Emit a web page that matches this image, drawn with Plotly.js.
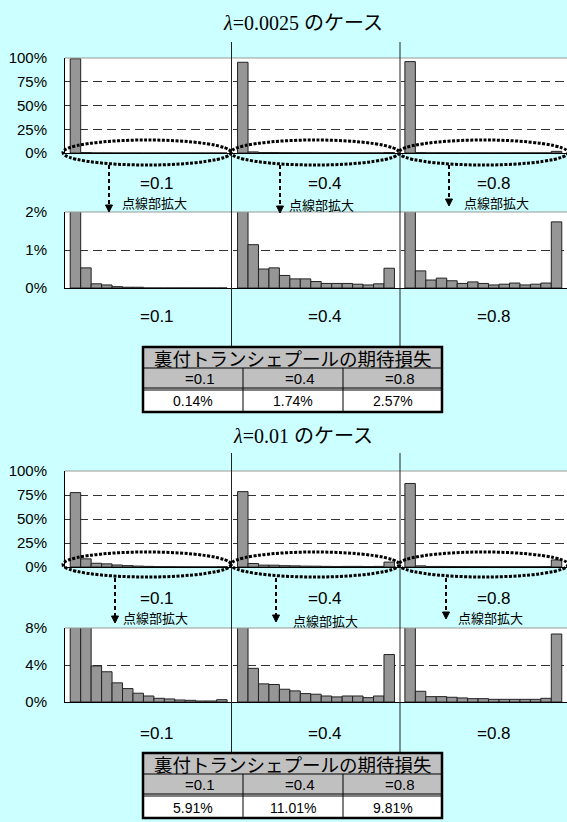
<!DOCTYPE html>
<html><head><meta charset="utf-8">
<script src="https://cdn.plot.ly/plotly-3.0.1.min.js"></script>
<style>html,body{margin:0;padding:0;background:#ccffff;}#chart{width:567px;height:822px;}</style>
</head><body><div id="chart"></div>
<script>
// ---------- data ----------
const bins = [1,2,3,4,5,6,7,8,9,10,11,12,13,14,15];
const rhoLabels = ['=0.1','=0.4','=0.8'];
const caseTitles = ['λ=0.0025','λ=0.01'];
const caseSuffix = 'のケース';
const zoomNote = '点線部拡大';
const tableHeader = '裏付トランシェプールの期待損失';
const lossA = ['0.14%','1.74%','2.57%'];
const lossB = ['5.91%','11.01%','9.81%'];
const ticksFull = [0, 25, 50, 75, 100];
const ticksZoomA = [0, 1, 2];
const ticksZoomB = [0, 4, 8];
// loss distributions (% of probability), λ=0.0025
const distA_01 = [99.2, 0.53, 0.11, 0.08, 0.035, 0.02, 0.02, 0, 0, 0, 0, 0, 0, 0, 0];
const distA_04 = [95.5, 1.14, 0.50, 0.53, 0.33, 0.24, 0.24, 0.17, 0.12, 0.12, 0.12, 0.10, 0.08, 0.11, 0.52];
const distA_08 = [96.2, 0.45, 0.21, 0.26, 0.19, 0.12, 0.16, 0.12, 0.08, 0.10, 0.13, 0.08, 0.10, 0.13, 1.74];
// λ=0.01
const distB_01 = [77.5, 8.5, 3.90, 3.27, 2.07, 1.45, 0.95, 0.65, 0.40, 0.33, 0.22, 0.18, 0.11, 0.11, 0.25];
const distB_04 = [78.5, 3.64, 1.96, 1.89, 1.38, 1.20, 0.91, 0.84, 0.65, 0.55, 0.65, 0.65, 0.47, 0.65, 5.13];
const distB_08 = [87.0, 1.16, 0.58, 0.58, 0.51, 0.44, 0.36, 0.36, 0.29, 0.29, 0.29, 0.29, 0.29, 0.40, 7.35];

// ---------- layout helpers ----------
const W = 567, H = 822;
const X = p => p / W;
const Y = p => 1 - p / H;
const SANS = 'Liberation Sans, Arial, sans-serif';
const CJK = 'Noto Sans CJK JP, sans-serif';
const SERIF = 'Liberation Serif, Times New Roman, serif';
const slots = 16;

const groups = [[distA_01, distA_04, distA_08], [distB_01, distB_04, distB_08]];
const rows = [
  {g:0, top:58, bot:153, ticks:ticksFull},
  {g:0, top:212, bot:288, ticks:ticksZoomA},
  {g:1, top:471, bot:567, ticks:ticksFull},
  {g:1, top:628, bot:702, ticks:ticksZoomB}
];

const traces = [];
const layout = {
  width: W, height: H,
  margin: {l:0, r:0, t:0, b:0},
  paper_bgcolor: '#ccffff',
  plot_bgcolor: '#ffffff',
  showlegend: false,
  bargap: 0,
  shapes: [],
  annotations: []
};

rows.forEach((r, i) => {
  const n = i + 1;
  const xa = 'x' + (n === 1 ? '' : n), ya = 'y' + (n === 1 ? '' : n);
  groups[r.g].forEach((d, p) => {
    traces.push({
      type: 'bar', x: bins.map(b => b + p * slots), y: d, width: 1,
      xaxis: xa, yaxis: ya,
      marker: {color: '#969696', line: {color: '#222', width: 1}},
      hoverinfo: 'skip'
    });
  });
  layout['xaxis' + (n === 1 ? '' : n)] = {
    domain: [X(65), 1], anchor: ya, range: [0, slots * 3],
    showticklabels: false, showgrid: false, zeroline: false,
    showline: true, linecolor: '#000', linewidth: 1, fixedrange: true
  };
  layout['yaxis' + (n === 1 ? '' : n)] = {
    domain: [Y(r.bot), Y(r.top)], anchor: xa, range: [0, r.ticks[r.ticks.length - 1]],
    tickmode: 'array', tickvals: r.ticks, ticktext: r.ticks.map(v => v + '%'),
    tickfont: {family: SANS, size: 15, color: '#000'},
    ticks: 'outside', ticklen: 14, tickcolor: 'rgba(0,0,0,0)',
    showgrid: true, gridcolor: '#333', griddash: '9px,5px', gridwidth: 1,
    zeroline: false, showline: true, linecolor: '#000', linewidth: 1, fixedrange: true
  };
  // gray top border
  layout.shapes.push({type:'line', xref:'paper', yref:'paper', x0:X(65), x1:1, y0:Y(r.top), y1:Y(r.top),
    line:{color:'#999', width:1}, layer:'above'});
});

function ann(text, x, y, size, family, extra) {
  layout.annotations.push(Object.assign({
    text: text, x: X(x), y: Y(y), xref: 'paper', yref: 'paper',
    xanchor: 'center', yanchor: 'middle', showarrow: false,
    font: {family: family, size: size, color: '#000'}
  }, extra || {}));
}

// per-case decorations
const cases = [
  {titleY: 21, lineTop: 42, tableTop: 347, ellTop: 140, ellBot: 165,
   arrowX: [109, 280, 449], arrowY0: 165, arrowY1: [212, 213, 206],
   labY: 183, noteX: [154, 321, 496], noteY: [203, 205, 202], botY: 316, loss: lossA},
  {titleY: 434, lineTop: 453, tableTop: 753, ellTop: 552, ellBot: 577,
   arrowX: [115, 276, 446], arrowY0: 578, arrowY1: [623, 622, 619],
   labY: 598, noteX: [155, 325, 490], noteY: [617, 620, 617], botY: 733, loss: lossB}
];
const panelL = [63, 231, 399], panelR = [231, 399, 568];
const labX = [157, 325, 494];

cases.forEach((c, k) => {
  // title
  ann('<i>' + caseTitles[k].charAt(0) + '</i>' + caseTitles[k].slice(1) +
      ' <span style="font-family:Noto Sans CJK JP">' + caseSuffix + '</span>',
      303, c.titleY, 20, SERIF);
  // separators
  [231.5, 400].forEach(x => layout.shapes.push({type:'line', xref:'paper', yref:'paper',
    x0:X(x), x1:X(x), y0:Y(c.lineTop), y1:Y(c.tableTop), line:{color:'#222', width:1}, layer:'above'}));
  for (let p = 0; p < 3; p++) {
    // dotted ellipse
    layout.shapes.push({type:'circle', xref:'paper', yref:'paper',
      x0:X(panelL[p]), x1:X(panelR[p]), y0:Y(c.ellBot), y1:Y(c.ellTop),
      line:{color:'#000', width:3, dash:'3px,1.5px'}, layer:'above'});
    // dashed arrow
    const ax = c.arrowX[p];
    layout.shapes.push({type:'line', xref:'paper', yref:'paper',
      x0:X(ax), x1:X(ax), y0:Y(c.arrowY0), y1:Y(c.arrowY1[p] - 6),
      line:{color:'#000', width:2, dash:'4px,3px'}, layer:'above'});
    layout.shapes.push({type:'path', xref:'paper', yref:'paper',
      path:'M' + X(ax - 3.5) + ',' + Y(c.arrowY1[p] - 7) + ' L' + X(ax + 3.5) + ',' + Y(c.arrowY1[p] - 7) +
           ' L' + X(ax) + ',' + Y(c.arrowY1[p]) + ' Z',
      fillcolor:'#000', line:{color:'#000', width:1}, layer:'above'});
    ann(rhoLabels[p], labX[p], c.labY, 17, SANS);
    ann(zoomNote, c.noteX[p], c.noteY[p], 13, CJK);
    ann(rhoLabels[p], labX[p], c.botY, 17, SANS);
  }
  // table
  const t = c.tableTop, L = 143, R = 442, cols = [143, 243, 343, 442];
  const r1 = t + 21, r2 = t + 42, r3 = t + 65;
  layout.shapes.push({type:'rect', xref:'paper', yref:'paper', x0:X(L), x1:X(R), y0:Y(r2), y1:Y(t),
    fillcolor:'#c0c0c0', line:{width:0}, layer:'above'});
  layout.shapes.push({type:'rect', xref:'paper', yref:'paper', x0:X(L), x1:X(R), y0:Y(r3), y1:Y(r2),
    fillcolor:'#ffffff', line:{width:0}, layer:'above'});
  layout.shapes.push({type:'line', xref:'paper', yref:'paper', x0:X(L), x1:X(R), y0:Y(r1), y1:Y(r1),
    line:{color:'#000', width:1}, layer:'above'});
  [r2 - 1, r2 + 1].forEach(yy => layout.shapes.push({type:'line', xref:'paper', yref:'paper',
    x0:X(L), x1:X(R), y0:Y(yy), y1:Y(yy), line:{color:'#000', width:1}, layer:'above'}));
  [243, 343].forEach(x => layout.shapes.push({type:'line', xref:'paper', yref:'paper',
    x0:X(x), x1:X(x), y0:Y(r3), y1:Y(r1), line:{color:'#000', width:1}, layer:'above'}));
  layout.shapes.push({type:'rect', xref:'paper', yref:'paper', x0:X(L), x1:X(R), y0:Y(r3), y1:Y(t),
    line:{color:'#000', width:2.5}, layer:'above'});
  ann(tableHeader, (L + R) / 2, (t + r1) / 2 + 0.5, 18.5, CJK);
  for (let p = 0; p < 3; p++) {
    const cx = (cols[p] + cols[p + 1]) / 2;
    ann(rhoLabels[p], cx + 7, (r1 + r2) / 2, 15, SANS);
    ann(c.loss[p], cx, (r2 + r3) / 2 + 1, 14, SANS);
  }
});

Plotly.newPlot('chart', traces, layout, {staticPlot: true, displayModeBar: false});
</script></body></html>
